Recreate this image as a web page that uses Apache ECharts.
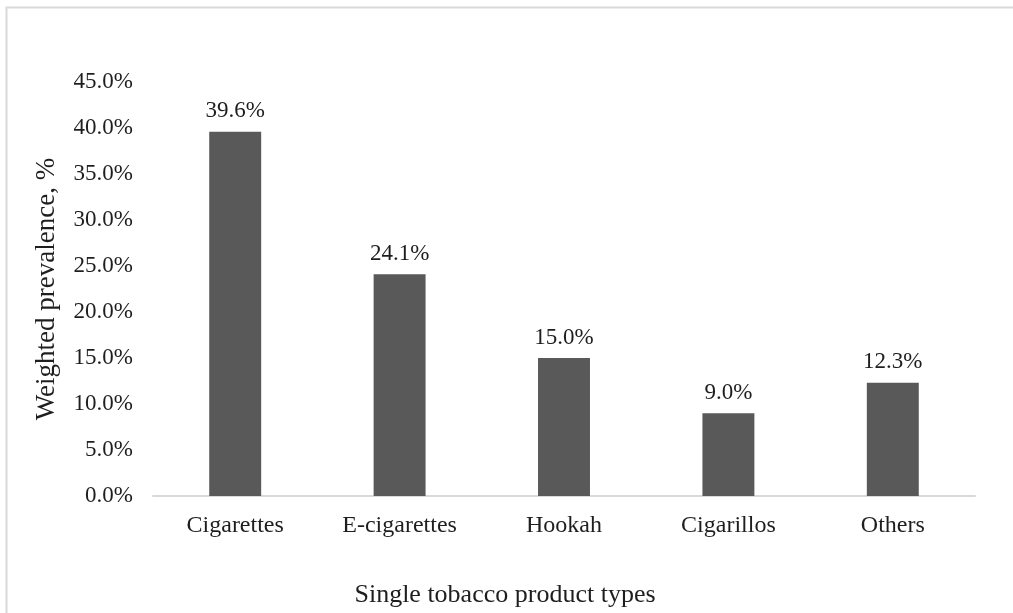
<!DOCTYPE html>
<html>
<head>
<meta charset="utf-8">
<script src="https://cdn.jsdelivr.net/npm/echarts@6/dist/echarts.min.js"></script>
<style>
  html, body { margin: 0; padding: 0; background: #fff; }
  #chart { width: 1013px; height: 613px; }
</style>
</head>
<body>
<div id="chart"></div>
<script>
// Product categories and weighted prevalence (%)
const categories = ['Cigarettes', 'E-cigarettes', 'Hookah', 'Cigarillos', 'Others'];
const prevalence = [39.6, 24.1, 15.0, 9.0, 12.3];
const yTicks = [0, 5, 10, 15, 20, 25, 30, 35, 40, 45];

const FONT = '"Liberation Serif", "Times New Roman", serif';
const TEXT = '#1e1e1e';

const chart = echarts.init(document.getElementById('chart'), null, { renderer: 'canvas' });

chart.setOption({
  animation: false,
  backgroundColor: '#ffffff',
  graphic: [{
    type: 'rect',
    left: 4, top: 5,
    shape: { width: 1100, height: 700 },
    style: { fill: 'none', stroke: '#d9d9d9', lineWidth: 2 },
    silent: true
  }],
  grid: { left: 153, right: 38, top: 82, bottom: 116 },
  xAxis: {
    type: 'category',
    data: categories,
    axisLine: { show: true, lineStyle: { color: '#d9d9d9', width: 2 } },
    axisTick: { show: false },
    axisLabel: { color: TEXT, fontFamily: FONT, fontSize: 24, margin: 18 },
    name: 'Single tobacco product types',
    nameLocation: 'middle',
    nameGap: 86,
    nameTextStyle: {
      color: TEXT, fontFamily: FONT, fontSize: 26,
      padding: [0, 118, 0, 0]
    }
  },
  yAxis: {
    type: 'value',
    min: yTicks[0],
    max: yTicks[yTicks.length - 1],
    interval: yTicks[1] - yTicks[0],
    splitLine: { show: false },
    axisLine: { show: false },
    axisTick: { show: false },
    axisLabel: {
      color: TEXT, fontFamily: FONT, fontSize: 23, margin: 20,
      formatter: v => v.toFixed(1) + '%'
    },
    name: 'Weighted prevalence, %',
    nameLocation: 'middle',
    nameRotate: 90,
    nameGap: 93,
    nameTextStyle: { color: TEXT, fontFamily: FONT, fontSize: 27 }
  },
  series: [{
    type: 'bar',
    data: prevalence,
    barWidth: '31.6%',
    itemStyle: { color: '#595959' },
    label: {
      show: true,
      position: 'top',
      distance: 9,
      color: TEXT,
      fontFamily: FONT,
      fontSize: 23,
      formatter: p => p.value.toFixed(1) + '%'
    }
  }]
});
</script>
</body>
</html>
